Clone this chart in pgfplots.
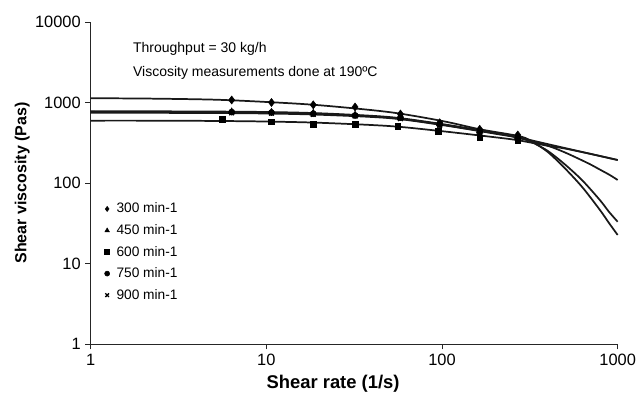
\documentclass[border=0pt]{standalone}
\usepackage{pgfplots}
\pgfplotsset{compat=1.18}
\usepackage{fontspec}
\setmainfont{Liberation Sans}
\usetikzlibrary{calc}
\begin{document}
\begin{tikzpicture}
\begin{axis}[
  name=ax,
  scale only axis,
  width=395.25pt, height=241.5pt,
  xmode=log, ymode=log,
  xmin=1, xmax=1000, ymin=1, ymax=10000,
  xtick={1,10,100,1000}, xticklabels={1,10,100,1000},
  ytick={1,10,100,1000,10000}, yticklabels={1,10,100,1000,10000},
  xminorticks=false, yminorticks=false,
  axis x line=bottom, axis y line=left,
  axis line style={-, line width=0.7pt, black!85},
  tick align=outside,
  major tick length=4pt,
  tick style={line width=0.7pt, black!85},
  /pgf/number format/assume math mode=true,
  tick label style={font=\fontsize{12.3}{14}\selectfont},
  xlabel={\textbf{Shear rate (1/s)}},
  ylabel={\textbf{Shear viscosity (Pas)}},
  xlabel style={font=\fontsize{13.8}{16}\selectfont, at={(rel axis cs:0.46,-0.124)}, anchor=center},
  ylabel style={font=\fontsize{12}{15}\selectfont, at={(rel axis cs:-0.13,0.5)}, anchor=center},
  legend style={draw=none, fill=none, at={(rel axis cs:0.026,0.445)}, anchor=north west,
    font=\fontsize{10.3}{12}\selectfont, row sep=4.2pt, inner sep=0pt,
    nodes={inner sep=1.5pt}},
  legend cell align=left,
  legend image code/.code={\draw[#1, mark size=1.9pt] plot coordinates {(3pt,0pt)}; \path (8pt,0pt);},
  clip=false,
]
% fitted curves
\addplot[forget plot, smooth, line width=1.3pt, black!90] coordinates {
 (1,1128) (2,1120) (5,1085) (10,1015) (20,925) (50,760) (100,590) (164,465) (270,385)
 (316,340) (398,245) (501,152) (631,88) (794,46) (891,32) (1000,22.6)};
\addplot[forget plot, smooth, line width=1.3pt, black!90] coordinates {
 (1,780) (2,778) (5,772) (10,762) (20,735) (50,660) (100,540) (200,420) (270,370)
 (316,330) (398,252) (501,170) (631,107) (794,61) (891,44) (1000,33)};
\addplot[forget plot, smooth, line width=1.3pt, black!90] coordinates {
 (1,595) (2,595) (5,590) (10,580) (20,560) (50,510) (100,440) (200,370) (270,340)
 (400,290) (500,268) (700,230) (1000,193)};
\addplot[forget plot, smooth, line width=1.3pt, black!90] coordinates {
 (1,765) (2,763) (5,758) (10,748) (20,722) (50,650) (100,530) (200,415) (270,370)
 (400,304) (500,272) (700,230) (1000,193)};
\addplot[forget plot, smooth, line width=1.3pt, black!90] coordinates {
 (1,745) (2,744) (5,740) (10,730) (20,705) (50,640) (100,525) (200,410) (270,365)
 (400,290) (500,240) (600,200) (700,170) (800,145) (900,126) (1000,109)};
% measured points
\addplot[only marks, mark=diamond*, mark size=3pt, black] coordinates {
 (6.35,1074) (10.7,1000) (18.5,935) (32,880) (58,720) (97,560) (164,465) (270,395)};
\addlegendentry{300 min-1}
\addplot[only marks, mark=triangle*, mark size=2.8pt, black] coordinates {
 (6.35,770) (10.7,760) (18.5,740) (32,700) (58,640) (97,540) (164,440) (270,370)};
\addlegendentry{450 min-1}
\addplot[only marks, mark=square*, mark size=2.2pt, black] coordinates {
 (5.6,615) (10.7,577) (18.5,541) (32,536) (56,511) (95,434) (164,365) (270,340)};
\addlegendentry{600 min-1}
\addplot[only marks, mark=*, mark size=2.3pt, black] coordinates {
 (6.35,760) (10.7,750) (18.5,725) (32,690) (58,650) (97,530) (164,430) (270,360)};
\addlegendentry{750 min-1}
\addplot[only marks, mark=x, mark size=2.5pt, line width=1pt, black] coordinates {
 (6.35,745) (10.7,735) (18.5,712) (32,680) (58,630) (97,520) (164,420) (270,355)};
\addlegendentry{900 min-1}
\node[anchor=west, font=\fontsize{10.5}{12}\selectfont, inner sep=0pt] at (rel axis cs:0.080,0.918) {Throughput = 30 kg/h};
\node[anchor=west, font=\fontsize{10.5}{12}\selectfont, inner sep=0pt] at (rel axis cs:0.080,0.842) {Viscosity measurements done at 190ºC};
\end{axis}
\pgfresetboundingbox
\path[use as bounding box] ($(ax.south west)+(-68pt,-39.75pt)$) rectangle ($(ax.north east)+(14.5pt,16.5pt)$);
\end{tikzpicture}
\end{document}
